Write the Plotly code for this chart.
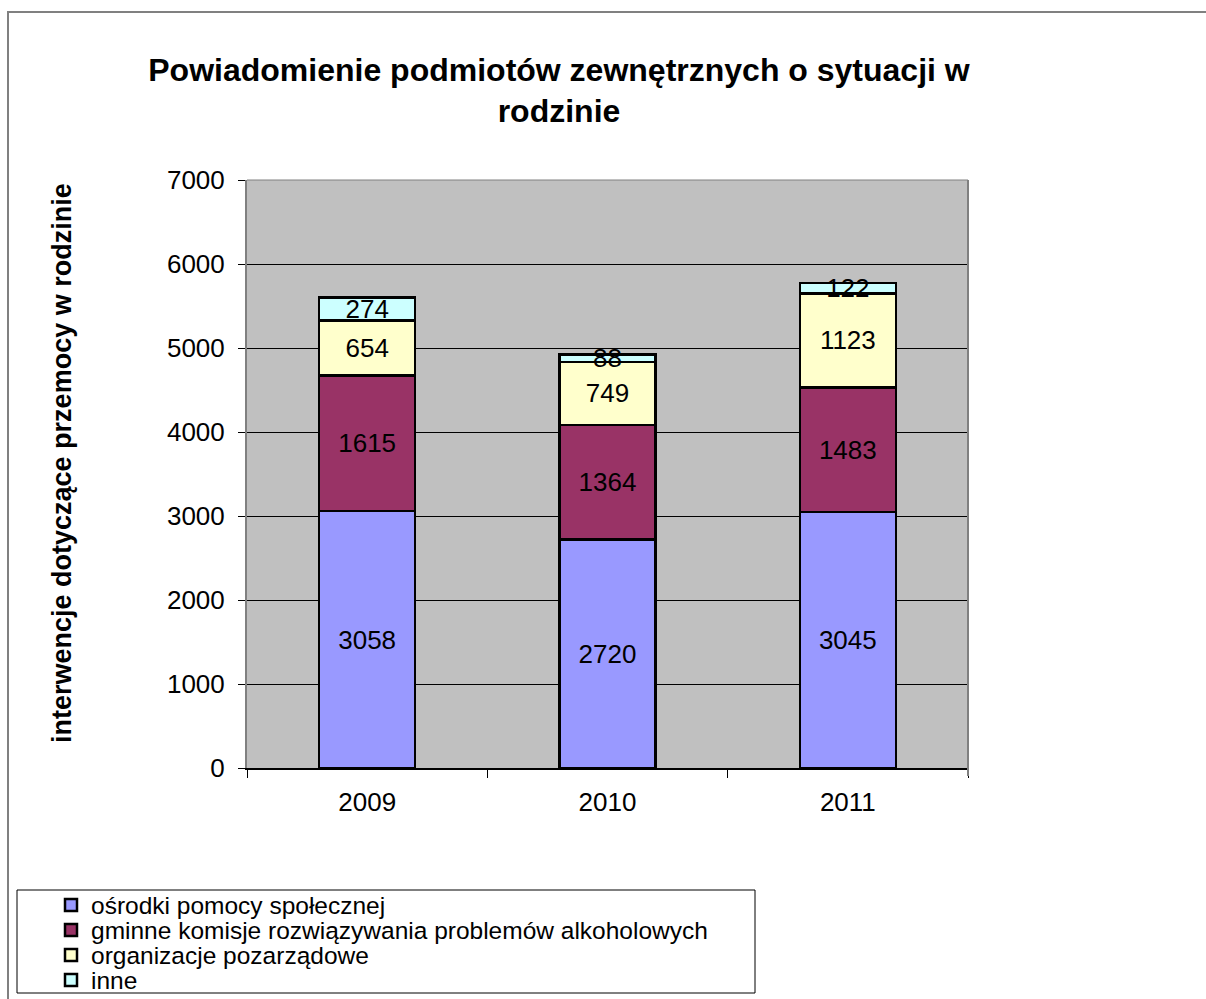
import plotly.graph_objects as go

years = ["2009", "2010", "2011"]
series_names = [
    "ośrodki pomocy społecznej",
    "gminne komisje rozwiązywania problemów alkoholowych",
    "organizacje pozarządowe",
    "inne",
]
osrodki = [3058, 2720, 3045]
gminne = [1615, 1364, 1483]
organizacje = [654, 749, 1123]
inne = [274, 88, 122]
colors = ["#9999FF", "#993366", "#FFFFCC", "#CCFFFF"]
y_ticks = [0, 1000, 2000, 3000, 4000, 5000, 6000, 7000]

W, H = 1206, 999
L, R, T, B = 247, 968, 180, 768
pw, ph = R - L, B - T


def px(x):
    return (x - L) / pw


def py(y):
    return (B - y) / ph


FONT = "Liberation Sans, Arial, sans-serif"
legend_ids = ["legend", "legend2", "legend3", "legend4"]
legend_rows = [905, 930, 955, 980]

fig = go.Figure()
for name, vals, col, lid in zip(series_names, [osrodki, gminne, organizacje, inne], colors, legend_ids):
    fig.add_trace(go.Bar(
        x=years, y=vals, name=name, legend=lid,
        marker=dict(color=col, line=dict(color="#000000", width=2.5)),
        text=[str(v) for v in vals],
        textposition="inside", insidetextanchor="middle", textangle=0,
        constraintext="none", cliponaxis=False,
        textfont=dict(family=FONT, size=26, color="#000000"),
    ))

legend_layout = {}
for lid, row in zip(legend_ids, legend_rows):
    legend_layout[lid] = dict(
        x=px(51), xanchor="left", y=py(row), yanchor="middle",
        bgcolor="rgba(0,0,0,0)", borderwidth=0,
        font=dict(family=FONT, size=24.5, color="#000000"),
        itemwidth=30,
    )

fig.update_layout(
    barmode="stack",
    bargap=0.6,
    width=W, height=H,
    margin=dict(l=L, r=W - R, t=T, b=H - B, autoexpand=False),
    paper_bgcolor="#FFFFFF",
    plot_bgcolor="#C0C0C0",
    font=dict(family=FONT, color="#000000"),
    title=dict(
        text="Powiadomienie podmiotów zewnętrznych o sytuacji w<br>rodzinie",
        x=px(559), xanchor="center", xref="paper",
        y=1 - 80.5 / H, yanchor="middle",
        font=dict(family=FONT, size=32, color="#000000", weight="bold"),
    ),
    showlegend=True,
    **legend_layout,
    xaxis=dict(
        type="category", tickson="boundaries",
        showline=True, linecolor="#000000", linewidth=2,
        ticks="outside", ticklen=8, tickcolor="#000000", tickwidth=1,
        tickfont=dict(size=26), ticklabelstandoff=10, showgrid=False,
    ),
    yaxis=dict(
        range=[0, 7000], tickvals=y_ticks,
        showline=True, linecolor="#808080", linewidth=2,
        ticks="outside", ticklen=7, tickcolor="#000000", tickwidth=1,
        tickfont=dict(size=26), ticklabelstandoff=8,
        showgrid=True, gridcolor="#000000", gridwidth=1,
        zeroline=False,
    ),
    annotations=[
        dict(text="<b>interwencje dotyczące przemocy w rodzinie</b>",
             xref="paper", yref="paper", x=px(62), y=py(463),
             xanchor="center", yanchor="middle", textangle=-90,
             showarrow=False, font=dict(family=FONT, size=27, color="#000000")),
    ],
    shapes=[
        # plot area right & top border
        dict(type="line", xref="paper", yref="paper", x0=1, x1=1, y0=-8 / ph, y1=1,
             line=dict(color="#808080", width=2)),
        dict(type="line", xref="paper", yref="paper", x0=0, x1=1, y0=1, y1=1,
             line=dict(color="#808080", width=1)),
        # legend box
        dict(type="rect", xref="paper", yref="paper",
             x0=px(17), x1=px(755), y0=py(890), y1=py(993),
             line=dict(color="#000000", width=1)),
        # outer chart border
        dict(type="rect", xref="paper", yref="paper",
             x0=px(8), x1=px(1215), y0=py(12), y1=py(1010),
             line=dict(color="#808080", width=2), layer="below"),
    ],
)

fig.write_html(
    "out.html",
    config={"displayModeBar": False},
    post_script="document.body.style.margin='0';document.body.style.overflow='hidden';",
)
